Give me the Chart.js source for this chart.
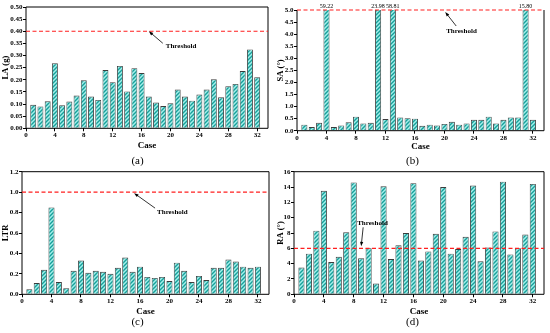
<!DOCTYPE html>
<html>
<head>
<meta charset="utf-8">
<script src="https://cdn.jsdelivr.net/npm/chart.js@4/dist/chart.umd.min.js"></script>
<style>
  html, body { margin: 0; padding: 0; background: #fff; }
  #wrap { position: relative; width: 550px; height: 333px; }
  canvas { position: absolute; }
</style>
</head>
<body>
<div id="wrap">
  <canvas id="pa"></canvas>
  <canvas id="pb"></canvas>
  <canvas id="pc"></canvas>
  <canvas id="pd"></canvas>
</div>
<script>
// case numbers 1..32
const cases = [1, 2, 3, 4, 5, 6, 7, 8, 9, 10, 11, 12, 13, 14, 15, 16,
  17, 18, 19, 20, 21, 22, 23, 24, 25, 26, 27, 28, 29, 30, 31, 32];

const laValues = [0.097, 0.090, 0.111, 0.268, 0.095, 0.110, 0.135, 0.198, 0.131, 0.117, 0.240, 0.190, 0.257, 0.152, 0.248, 0.228,
  0.131, 0.106, 0.092, 0.103, 0.160, 0.131, 0.114, 0.139, 0.160, 0.202, 0.128, 0.173, 0.183, 0.236, 0.325, 0.210];
const saValues = [0.25, 0.15, 0.33, 59.22, 0.15, 0.22, 0.35, 0.58, 0.30, 0.33, 23.98, 0.48, 58.81, 0.55, 0.52, 0.50,
  0.20, 0.25, 0.22, 0.28, 0.37, 0.25, 0.30, 0.45, 0.45, 0.58, 0.30, 0.45, 0.55, 0.55, 15.80, 0.45];
const ltrValues = [0.05, 0.11, 0.24, 0.85, 0.12, 0.06, 0.23, 0.33, 0.21, 0.23, 0.22, 0.20, 0.26, 0.36, 0.22, 0.27,
  0.17, 0.16, 0.17, 0.13, 0.31, 0.23, 0.12, 0.18, 0.14, 0.26, 0.26, 0.34, 0.32, 0.27, 0.26, 0.27];
const raValues = [3.5, 5.3, 8.3, 13.5, 4.2, 4.9, 8.1, 14.6, 4.7, 6.0, 1.4, 14.1, 4.6, 6.4, 8.0, 14.5,
  4.4, 5.6, 7.9, 14.0, 5.3, 5.9, 7.5, 14.2, 4.3, 6.1, 8.2, 14.7, 5.2, 6.0, 7.8, 14.4];

// tick labels
const xTicks = [0, 4, 8, 12, 16, 20, 24, 28, 32];
const laTicks = [0, 0.05, 0.10, 0.15, 0.20, 0.25, 0.30, 0.35, 0.40, 0.45, 0.50];
const saTicks = [0, 0.5, 1.0, 1.5, 2.0, 2.5, 3.0, 3.5, 4.0, 4.5, 5.0];
const ltrTicks = [0, 0.2, 0.4, 0.6, 0.8, 1.0, 1.2];
const raTicks = [0, 2, 4, 6, 8, 10, 12, 14, 16];

const thresholds = { a: 0.4, b: 5.0, c: 1.0, d: 6 };

const SERIF = '"Liberation Serif", "Times New Roman", serif';

function makeHatch() {
  const c = document.createElement('canvas');
  c.width = 4; c.height = 4;
  const g = c.getContext('2d');
  g.fillStyle = '#a4f0ec';
  g.fillRect(0, 0, 4, 4);
  g.strokeStyle = '#17a09a';
  g.lineWidth = 1.4;
  g.beginPath();
  g.moveTo(0, 4); g.lineTo(4, 0);
  g.moveTo(-1, 1); g.lineTo(1, -1);
  g.moveTo(3, 5); g.lineTo(5, 3);
  g.stroke();
  return g.createPattern(c, 'repeat');
}

const panels = [
  { id: 'pa', x: 0, y: 0, w: 275, h: 166, plot: [26, 7, 268, 128.3], values: laValues, yTicks: laTicks, dec: 2,
    yMax: 0.5, th: thresholds.a, yTitle: 'LA (g)', tag: '(a)', tagY: 161, caseY: 146,
    note: { xv: 17, tipDy: 0, tail: [14, 12], text: [17, 15] } },
  { id: 'pb', x: 275, y: 0, w: 275, h: 166, plot: [22, 10, 269, 130.7], values: saValues, yTicks: saTicks, dec: 1,
    yMax: 5.0, th: thresholds.b, yTitle: 'SA (\u00b0)', tag: '(b)', tagY: 161, caseY: 147, noTop: true, overLabels: true,
    note: { xv: 20.1, tipDy: 2, tail: [11, 14], text: [1, 19] } },
  { id: 'pc', x: 0, y: 166, w: 275, h: 167, plot: [22, 5.7, 269, 128.3], values: ltrValues, yTicks: ltrTicks, dec: 1,
    yMax: 1.2, th: thresholds.c, yTitle: 'LTR', tag: '(c)', tagY: 156, caseY: 145.7,
    note: { xv: 15.2, tipDy: 1, tail: [21, 15], text: [23, 19] } },
  { id: 'pd', x: 275, y: 166, w: 275, h: 167, plot: [19, 5.7, 269, 128.3], values: raValues, yTicks: raTicks, dec: 0,
    yMax: 16, th: thresholds.d, yTitle: 'RA (\u00b0)', tag: '(d)', tagY: 156, caseY: 145.7,
    note: { xv: 9.0, tipDy: -2, tail: [2, -19], text: [-4, -23] } }
];

function arrow(ctx, x0, y0, x1, y1) {
  const ang = Math.atan2(y1 - y0, x1 - x0);
  const len = 4.5, half = 1.6;
  ctx.strokeStyle = '#000';
  ctx.lineWidth = 0.8;
  ctx.beginPath();
  ctx.moveTo(x0, y0);
  ctx.lineTo(x1 - Math.cos(ang) * len * 0.8, y1 - Math.sin(ang) * len * 0.8);
  ctx.stroke();
  ctx.fillStyle = '#000';
  ctx.beginPath();
  ctx.moveTo(x1, y1);
  ctx.lineTo(x1 - Math.cos(ang) * len - Math.sin(ang) * half, y1 - Math.sin(ang) * len + Math.cos(ang) * half);
  ctx.lineTo(x1 - Math.cos(ang) * len + Math.sin(ang) * half, y1 - Math.sin(ang) * len - Math.cos(ang) * half);
  ctx.closePath();
  ctx.fill();
}

const extras = {
  id: 'extras',
  afterDatasetsDraw(chart) {
    const p = chart.options.plugins.extras.panel;
    const { ctx, chartArea: a, scales } = chart;
    ctx.save();
    // plot frame
    ctx.strokeStyle = '#000';
    ctx.lineWidth = 1;
    ctx.beginPath();
    if (p.noTop) {
      ctx.moveTo(a.left, a.top); ctx.lineTo(a.left, a.bottom); ctx.lineTo(a.right, a.bottom); ctx.lineTo(a.right, a.top);
    } else {
      ctx.rect(a.left, a.top, a.right - a.left, a.bottom - a.top);
    }
    ctx.stroke();
    // threshold line
    const ty = scales.y.getPixelForValue(p.th);
    ctx.strokeStyle = '#ff1f1f';
    ctx.lineWidth = 1.2;
    ctx.setLineDash([4, 2.5]);
    ctx.beginPath();
    ctx.moveTo(a.left, ty); ctx.lineTo(a.right, ty);
    ctx.stroke();
    ctx.setLineDash([]);
    // annotation
    const tx = scales.x.getPixelForValue(p.note.xv);
    const tipY = ty + p.note.tipDy;
    arrow(ctx, tx + p.note.tail[0], tipY + p.note.tail[1], tx, tipY);
    ctx.fillStyle = '#000';
    ctx.font = 'bold 7px ' + SERIF;
    ctx.textAlign = 'left';
    ctx.textBaseline = 'middle';
    ctx.fillText('Threshold', tx + p.note.text[0], tipY + p.note.text[1]);
    // values above the axis limit
    if (p.overLabels) {
      ctx.font = '6px ' + SERIF;
      ctx.textAlign = 'center';
      ctx.textBaseline = 'alphabetic';
      p.values.forEach((v, i) => {
        if (v > p.yMax) ctx.fillText(v.toFixed(2), scales.x.getPixelForValue(cases[i]), a.top - 2);
      });
    }
    // panel tag
    ctx.font = '11px ' + SERIF;
    ctx.textAlign = 'center';
    ctx.textBaseline = 'middle';
    ctx.fillText(p.tag, chart.width / 2, p.tagY);
    ctx.restore();
  }
};

panels.forEach(p => {
  const cv = document.getElementById(p.id);
  cv.style.left = p.x + 'px';
  cv.style.top = p.y + 'px';
  cv.width = p.w; cv.height = p.h;
  const [l, t, r, b] = p.plot;
  const titleLH = 9 * 1.2;
  new Chart(cv.getContext('2d'), {
    type: 'bar',
    data: {
      datasets: [{
        data: cases.map((c, i) => ({ x: c, y: p.values[i] })),
        backgroundColor: makeHatch(),
        borderColor: '#3c3c3c',
        borderWidth: 0.9,
        barPercentage: 0.82,
        categoryPercentage: 1
      }]
    },
    options: {
      responsive: false,
      animation: false,
      layout: { padding: { left: 0, top: t, right: p.w - r, bottom: 0 } },
      plugins: { legend: { display: false }, tooltip: { enabled: false }, extras: { panel: p } },
      scales: {
        x: {
          type: 'linear', min: 0, max: 33.5, offset: false,
          afterBuildTicks: s => { s.ticks = xTicks.map(v => ({ value: v })); },
          afterFit: s => { s.height = p.h - b; },
          grid: { drawOnChartArea: false, drawTicks: true, tickLength: 3, color: '#000', offset: false },
          border: { display: false },
          ticks: { padding: 0, color: '#000', font: { family: SERIF, size: 7, weight: 'bold' }, maxRotation: 0 },
          title: { display: true, text: 'Case', color: '#000', font: { family: SERIF, size: 9, weight: 'bold' },
            padding: { top: 0, bottom: p.h - p.caseY - titleLH / 2 } }
        },
        y: {
          min: 0, max: p.yMax,
          afterBuildTicks: s => { s.ticks = p.yTicks.map(v => ({ value: v })); },
          afterFit: s => { s.width = l; },
          grid: { drawOnChartArea: false, drawTicks: true, tickLength: 3, color: '#000' },
          border: { display: false },
          ticks: { padding: 0.5, color: '#000', font: { family: SERIF, size: 7, weight: 'bold' },
            callback: v => Number(v).toFixed(p.dec) },
          title: { display: true, text: p.yTitle, color: '#000', font: { family: SERIF, size: 8.5, weight: 'bold' },
            padding: { top: 1, bottom: 0 } }
        }
      }
    },
    plugins: [extras]
  });
});
</script>
</body>
</html>
